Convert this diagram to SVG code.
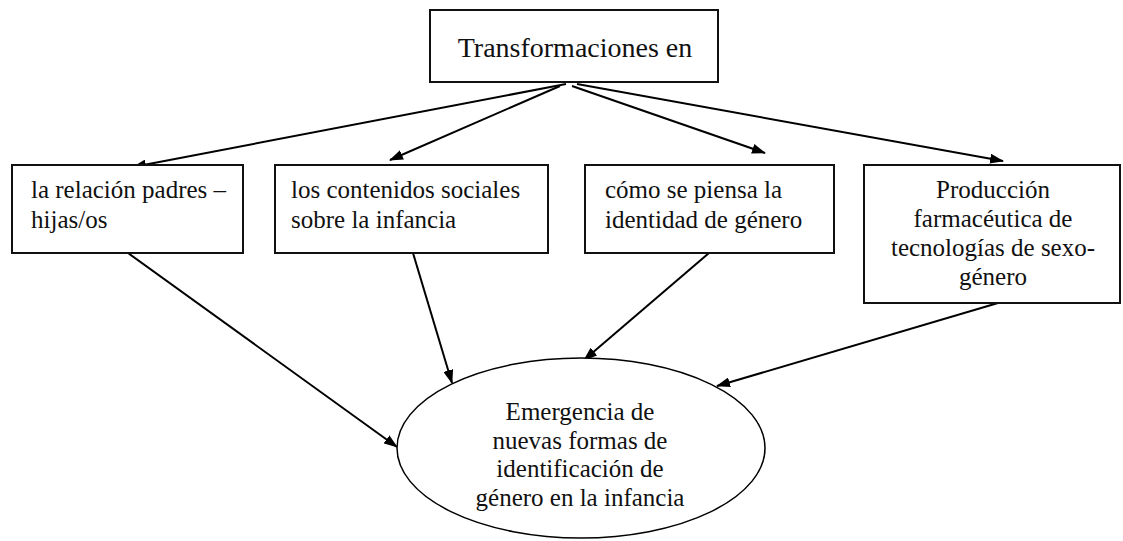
<svg xmlns="http://www.w3.org/2000/svg" width="1123" height="541" viewBox="0 0 1123 541">
<defs>
<style>
.box{fill:#fff;stroke:#111;stroke-width:2}
.t{font-family:"Liberation Serif","Times New Roman",serif;font-size:25px;fill:#111}
.c{text-anchor:middle}
.e{stroke:#000;stroke-width:2;fill:none;marker-end:url(#ah)}
</style>
<marker id="ah" markerWidth="14" markerHeight="10" refX="13" refY="5" orient="auto" markerUnits="userSpaceOnUse">
<path d="M0,0 L14,5 L0,10 Z" fill="#000"/>
</marker>
</defs>
<rect width="1123" height="541" fill="#fff"/>
<g id="connectors">
<line class="e" x1="566" y1="84" x2="133" y2="167"/>
<line class="e" x1="560" y1="86" x2="390" y2="160"/>
<line class="e" x1="572" y1="86" x2="765" y2="153"/>
<line class="e" x1="577" y1="84" x2="1003" y2="161"/>
<line class="e" x1="128" y1="253" x2="397" y2="447"/>
<line class="e" x1="413" y1="253" x2="452" y2="383"/>
<line class="e" x1="709" y1="253" x2="584" y2="360"/>
<line class="e" x1="998" y1="303" x2="717" y2="386"/>
</g>
<g id="top">
<rect class="box" x="430" y="10" width="288" height="72"/>
<text class="t c" x="575" y="57" style="font-size:28px">Transformaciones en</text>
</g>
<g id="n1">
<rect class="box" x="12" y="165" width="231" height="88"/>
<text class="t" x="31" y="198">la relación padres –</text>
<text class="t" x="31" y="228">hijas/os</text>
</g>
<g id="n2">
<rect class="box" x="275" y="165" width="273" height="88"/>
<text class="t" x="291" y="198">los contenidos sociales</text>
<text class="t" x="291" y="228">sobre la infancia</text>
</g>
<g id="n3">
<rect class="box" x="585" y="165" width="249" height="88"/>
<text class="t" x="605" y="198">cómo se piensa la</text>
<text class="t" x="605" y="228">identidad de género</text>
</g>
<g id="n4">
<rect class="box" x="864" y="165" width="256" height="138"/>
<text class="t c" x="993" y="198">Producción</text>
<text class="t c" x="993" y="227">farmacéutica de</text>
<text class="t c" x="993" y="256">tecnologías de sexo-</text>
<text class="t c" x="993" y="285">género</text>
</g>
<g id="result">
<ellipse cx="581" cy="448" rx="184" ry="90" fill="#fff" stroke="#000" stroke-width="1.5"/>
<text class="t c" x="580" y="420">Emergencia de</text>
<text class="t c" x="580" y="449">nuevas formas de</text>
<text class="t c" x="580" y="477">identificación de</text>
<text class="t c" x="580" y="506">género en la infancia</text>
</g>
</svg>
